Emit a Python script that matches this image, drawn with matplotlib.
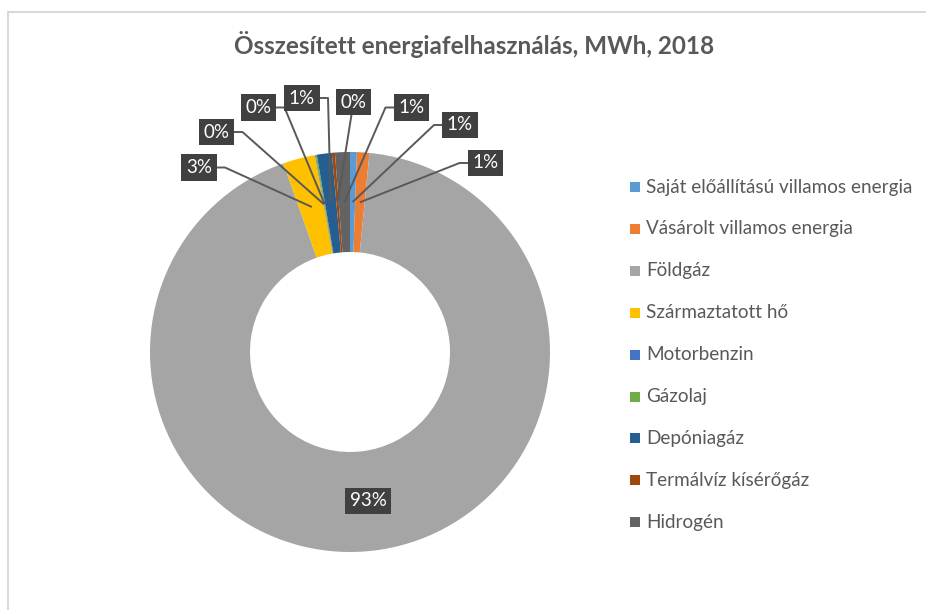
import matplotlib
matplotlib.use("Agg")
import matplotlib.pyplot as plt
from matplotlib.patches import Rectangle
import numpy as np

# ---- data ----
categories = ["Saját előállítású villamos energia", "Vásárolt villamos energia", "Földgáz",
              "Származtatott hő", "Motorbenzin", "Gázolaj", "Depóniagáz",
              "Termálvíz kísérőgáz", "Hidrogén"]
values = [0.55, 1.0, 93.0, 2.6, 0.05, 0.1, 1.2, 0.25, 1.2]
colors = ["#5B9BD5", "#ED7D31", "#A5A5A5", "#FFC000", "#4472C4", "#70AD47",
          "#255E91", "#9E480E", "#636363"]
title = "Összesített energiafelhasználás, MWh, 2018"

# ---- layout (label positions relative to centre, in radii; None = inside ring) ----
label_pos = [(0.55, 1.135), (0.6775, 0.945), None, (-0.755, 0.9225), (-0.6675, 1.10),
             (-0.4575, 1.2225), (-0.24, 1.27), (0.0175, 1.25), (0.3075, 1.2225)]

W, H = 926, 610
plt.rcParams['font.family'] = ['Lato', 'DejaVu Sans']
fig = plt.figure(figsize=(W / 100, H / 100), dpi=100)
ax = fig.add_axes([0, 0, 1, 1])

cx, cy, R = 350, H - 352, 200
wedges, _ = ax.pie(values, colors=colors, startangle=90, counterclock=False,
                   center=(cx, cy), radius=R,
                   wedgeprops=dict(width=R * 0.5, edgecolor='none'))
ax.set_xlim(0, W)
ax.set_ylim(0, H)
ax.set_aspect('equal')
ax.set_axis_off()

total = sum(values)
box_col = "#404040"
line_col = "#595959"
hw, stub = 17, 9
for w, v, pos in zip(wedges, values, label_pos):
    pct = f"{round(v / total * 100):.0f}%"
    ang = np.deg2rad((w.theta1 + w.theta2) / 2)
    px, py = cx + 0.75 * R * np.cos(ang), cy + 0.75 * R * np.sin(ang)
    if pos is None:
        lx, ly = px, py
    else:
        lx, ly = cx + pos[0] * R, cy + pos[1] * R
        if abs(pos[0]) < 0.1:
            xs, ys = [lx, px], [ly, py]
        else:
            s = 1 if lx < px else -1
            xs = [lx, lx + s * (hw + stub), px]
            ys = [ly, ly, py]
        ax.plot(xs, ys, color=line_col, lw=1.4, zorder=3, solid_capstyle='butt')
    ax.text(lx, ly, pct, ha='center', va='center', color='white', fontsize=13.5,
            zorder=5,
            bbox=dict(boxstyle='square,pad=0.25', facecolor=box_col, edgecolor='none'))

# title
fig.text(474 / W, 1 - 44 / H, title, ha='center', va='center', fontsize=17.5,
         fontweight='bold', color='#595959')

# legend (manual)
leg_y0, leg_dy = 187, 41.9
for i, (c, lab) in enumerate(zip(colors, categories)):
    y = H - (leg_y0 + i * leg_dy)
    ax.add_patch(Rectangle((630, y - 5), 10, 10, facecolor=c, edgecolor='none'))
    ax.text(646, y, lab, ha='left', va='center', fontsize=13.6, color='#595959')

# chart border
ax.add_patch(Rectangle((8, -10), W + 20, H - 12 + 10, facecolor='none',
                       edgecolor='#D9D9D9', lw=1.5, clip_on=False))

fig.savefig("out.png", dpi=100, facecolor='white')
